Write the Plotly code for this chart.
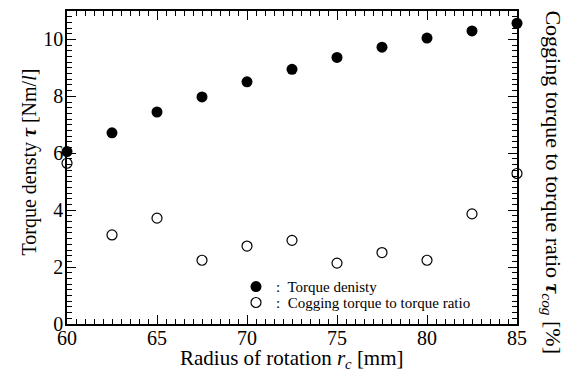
import plotly.graph_objects as go

radius = [60, 62.5, 65, 67.5, 70, 72.5, 75, 77.5, 80, 82.5, 85]
torque_density = [6.06, 6.72, 7.45, 7.98, 8.51, 8.95, 9.37, 9.73, 10.05, 10.3, 10.57]
cogging_ratio = [5.65, 3.13, 3.72, 2.24, 2.74, 2.94, 2.14, 2.51, 2.24, 3.87, 5.29]
x_ticks = [60, 65, 70, 75, 80, 85]
y_ticks = [0, 2, 4, 6, 8, 10]

FONT = "Liberation Serif"

L, R, T, B = 67, 517, 9, 324
W, H = 565, 372
PW, PH = R - L, B - T

fig = go.Figure()
fig.add_trace(go.Scatter(
    x=radius, y=torque_density, mode="markers", name=":  Torque denisty",
    marker=dict(symbol="circle", size=11, color="black", line=dict(width=0)),
    cliponaxis=False, legend="legend",
))
fig.add_trace(go.Scatter(
    x=radius, y=cogging_ratio, mode="markers", name=":  Cogging torque to torque ratio",
    marker=dict(symbol="circle", size=10, color="white", line=dict(width=1.2, color="black")),
    cliponaxis=False, yaxis="y2", legend="legend2",
))

axis_common = dict(
    showline=True, linecolor="black", linewidth=1.5, ticks="inside", ticklen=9,
    tickwidth=1, tickcolor="black", showgrid=False, zeroline=False,
    tickfont=dict(family=FONT, size=20, color="black"),
)

legend_common = dict(xanchor="left", yanchor="top", bgcolor="rgba(0,0,0,0)",
                     font=dict(family=FONT, size=15, color="black"), itemwidth=30)

fig.update_layout(
    width=W, height=H,
    margin=dict(l=L, r=W - R, t=T, b=H - B),
    paper_bgcolor="white", plot_bgcolor="white",
    font=dict(family=FONT, color="black"),
    xaxis=dict(range=[60, 85], tickvals=x_ticks, mirror="ticks", ticklabelstandoff=-5,
               minor=dict(dtick=0.5, ticklen=5, ticks="inside", tickcolor="black", tickwidth=1),
               **axis_common),
    yaxis=dict(range=[0, 11], tickvals=y_ticks, mirror="ticks", ticklabelstandoff=-2,
               minor=dict(dtick=0.2, ticklen=5, ticks="inside", tickcolor="black", tickwidth=1),
               **axis_common),
    yaxis2=dict(range=[0, 11], overlaying="y", side="right", showticklabels=False,
                showline=False, showgrid=False, zeroline=False, ticks="", tickvals=[]),
    showlegend=True,
    legend=dict(x=(236 - L) / PW, y=(B - 270) / PH, **legend_common),
    legend2=dict(x=(236 - L) / PW, y=(B - 286) / PH, **legend_common),
    annotations=[
        dict(text="Radius of rotation <i>r</i><sub><i>c</i></sub> [mm]", xref="paper", yref="paper",
             x=0.5, y=0, yshift=-35, xanchor="center", yanchor="middle", showarrow=False,
             font=dict(family=FONT, size=21, color="black")),
        dict(text="Torque densty <b><i>τ</i></b> [Nm/<i>l</i>]", xref="paper", yref="paper",
             x=0, xshift=-(L - 30), y=(B - 161.5) / PH, xanchor="center", yanchor="middle", textangle=-90,
             showarrow=False, font=dict(family=FONT, size=20, color="black")),
        dict(text="Cogging torque to torque ratio <b><i>τ</i></b><sub><i>cog</i></sub> [%]", xref="paper", yref="paper",
             x=1, xshift=552 - R, y=(B - 181.5) / PH, xanchor="center", yanchor="middle", textangle=90,
             showarrow=False, font=dict(family=FONT, size=22, color="black")),
    ],
)

fig.write_html("out.html", config=dict(displayModeBar=False),
               post_script="document.body.style.margin='0';document.body.style.overflow='hidden';")
